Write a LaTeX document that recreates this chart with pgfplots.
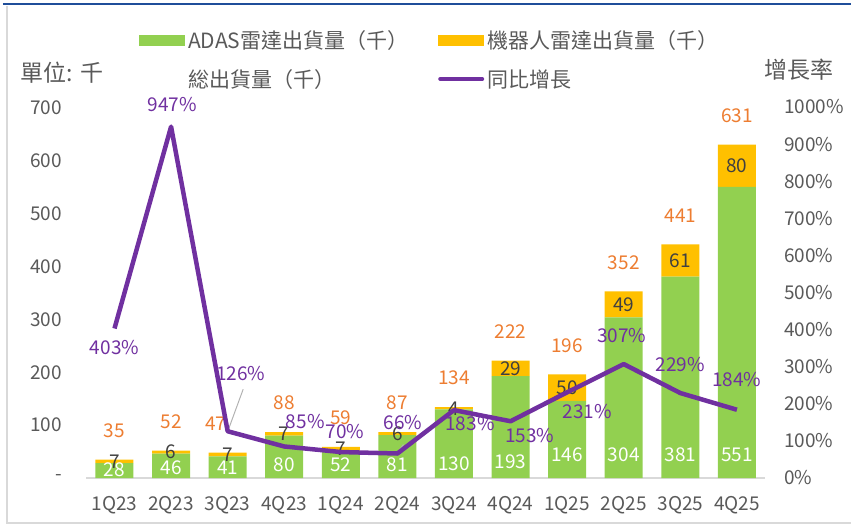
\documentclass[border=0pt]{standalone}
\usepackage{pgfplots}
\usepackage{pgfplotstable}
\pgfplotsset{compat=1.18}
\usepackage{fontspec}
\setmainfont{Noto Sans CJK TC}
\definecolor{adas}{HTML}{92D050}
\definecolor{robot}{HTML}{FFC000}
\definecolor{growth}{HTML}{7030A0}
\definecolor{tot}{HTML}{ED7D31}
\definecolor{txt}{HTML}{595959}
\definecolor{dark}{HTML}{404040}
\definecolor{axgray}{HTML}{D9D9D9}
\definecolor{topblue}{HTML}{1F4E9A}
\newcommand\numfont{\fontsize{19bp}{22bp}\selectfont}
\newcommand\legfont{\fontsize{21bp}{24bp}\selectfont}
\newcommand\titlefont{\fontsize{23bp}{26bp}\selectfont}

\pgfplotstableread{
x q adas robot total growth ly tdx dx dy
0 1Q23 28 7 35 403 15 0 0 -19
1 2Q23 46 6 52 947 19 0 1 22
2 3Q23 41 7 47 126 19 -12 13 58
3 4Q23 80 7 88 85 24.6 0 21 24.5
4 1Q24 52 7 59 70 24.6 0 4 20
5 2Q24 81 6 87 66 24.6 0 5.5 30.5
6 3Q24 130 4 134 183 27.8 0 16 -13
7 4Q24 193 29 222 153 30.8 0 19 -14
8 1Q25 146 50 196 231 43.5 0 20 -19
9 2Q25 304 49 352 307 43.5 0 -2 29
10 3Q25 381 61 441 229 43.5 0 0 29
11 4Q25 551 80 631 184 43.5 0 0 30
}\data

\pgfplotsset{
  base/.style={width=679bp, height=371bp, scale only axis, at={(0,0)}, anchor=south west,
    xmin=-0.5, xmax=11.5, clip=false},
}

\begin{document}
\begin{tikzpicture}
% bars
\begin{axis}[base, ymin=0, ymax=702, ybar stacked, bar width=38bp,
  axis x line*=bottom, axis y line*=left,
  y axis line style={draw=none}, x axis line style={axgray, line width=1.5bp},
  xtick={0,...,11}, xticklabels from table={\data}{q}, major tick length=0pt,
  ytick={0,100,...,700}, yticklabels={-,100,200,300,400,500,600,700},
  tick label style={font=\numfont, text=txt},
  yticklabel style={anchor=east, inner sep=0pt, xshift=-24bp},
  xticklabel style={anchor=center, inner sep=0pt, yshift=-27bp},
]
\addplot[fill=adas, draw=none] table[x=x, y=adas]{\data};
\addplot[fill=robot, draw=none] table[x=x, y=robot]{\data};
\end{axis}
% bar labels
\begin{axis}[base, ymin=0, ymax=702, hide axis]
\addplot[draw=none, mark=none, nodes near coords, point meta=explicit symbolic,
  visualization depends on={\thisrow{tdx}\as\tdx},
  every node near coord/.append style={font=\numfont, text=tot, anchor=center, xshift=\tdx*1bp, yshift=29bp}]
  table[x=x, y=total, meta=total]{\data};
\addplot[draw=none, mark=none, nodes near coords, point meta=explicit symbolic,
  every node near coord/.append style={font=\numfont, text=dark, anchor=center}]
  table[x=x, y expr=\thisrow{adas}+\thisrow{robot}/2, meta=robot]{\data};
\addplot[draw=none, mark=none, nodes near coords, point meta=explicit symbolic,
  every node near coord/.append style={font=\numfont, text=white, anchor=center}]
  table[x=x, y=ly, meta=adas]{\data};
\end{axis}
% growth line
\begin{axis}[base, ymin=0, ymax=1000,
  axis x line=none, axis y line*=right, y axis line style={draw=none},
  major tick length=0pt,
  ytick={0,100,...,1000}, yticklabels={0\%,100\%,200\%,300\%,400\%,500\%,600\%,700\%,800\%,900\%,1000\%},
  tick label style={font=\numfont, text=txt},
  yticklabel style={anchor=west, inner sep=0pt, xshift=18.6bp},
  legend columns=2,
  legend cell align=left,
  legend style={draw=none, fill=none, at={(axis description cs:0.0778,1.206)}, anchor=north west,
    inner sep=0pt, font=\legfont, text=txt, row sep=19bp,
    /tikz/every odd column/.style={column sep=3bp}, nodes={inner sep=0pt}},
]
\draw[gray!60, line width=1bp] (axis cs:2,126) ++(0.5bp,1bp) -- ++(15bp,41bp);
\draw[gray!60, line width=1bp] (axis cs:5,66) ++(1bp,2bp) -- ++(5bp,7bp);
\addplot[growth, line width=4.5bp, line join=round, mark=none, forget plot,
  nodes near coords={\pgfplotspointmeta\%}, point meta=explicit symbolic,
  visualization depends on={\thisrow{dx}\as\gdx},
  visualization depends on={\thisrow{dy}\as\gdy},
  every node near coord/.append style={font=\numfont, text=growth, anchor=center, xshift=\gdx*1bp, yshift=\gdy*1bp}]
  table[x=x, y=growth, meta=growth]{\data};
\addlegendimage{draw=none, legend image code/.code={\fill[adas] (0bp,-5.5bp) rectangle (46bp,5.5bp);}}
\addlegendentry{\makebox[250bp][l]{ADAS雷達出貨量（千）}}
\addlegendimage{draw=none, legend image code/.code={\fill[robot] (0bp,-5.5bp) rectangle (46bp,5.5bp);}}
\addlegendentry{機器人雷達出貨量（千）}
\addlegendimage{draw=none, legend image code/.code={\path[draw=none, fill=none] (0bp,-5.5bp) rectangle (46bp,5.5bp);}}
\addlegendentry{\makebox[250bp][l]{総出貨量（千）}}
\addlegendimage{draw=none, legend image code/.code={\draw[growth, line width=4bp, line cap=round] (2bp,0bp) -- (44bp,0bp);}}
\addlegendentry{同比增長}
\end{axis}
\node[font=\titlefont, text=txt] at (-24.2bp, 405bp) {單位: 千};
\node[font=\titlefont, text=txt] at (712.8bp, 408bp) {增長率};
\draw[topblue, line width=2bp] (-83.2bp, 473.5bp) -- (764.8bp, 473.5bp);
\draw[axgray, line width=1.5bp] (-79.2bp, 472bp) -- (-79.2bp, -45bp) -- (764.8bp,-45bp);
\pgfresetboundingbox
\path[use as bounding box] (-86.2bp,-47bp) rectangle (764.8bp,478bp);
\end{tikzpicture}
\end{document}
